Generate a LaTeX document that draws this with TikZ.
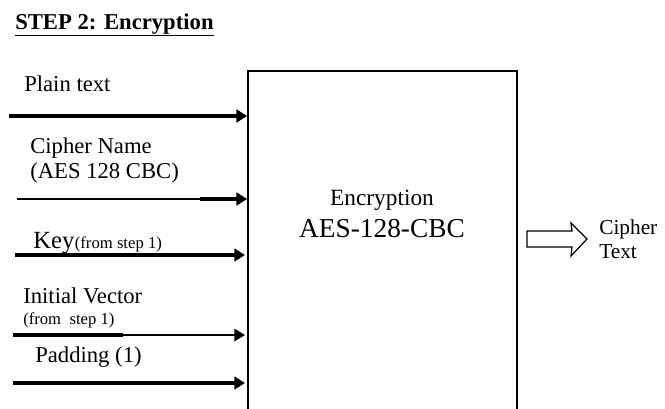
\documentclass[tikz,border=0pt]{standalone}
\usepackage{fontspec}
\setmainfont{Liberation Serif}
\usetikzlibrary{arrows.meta}
\begin{document}
\begin{tikzpicture}[x=0.75pt,y=-0.75pt,
  lbl/.style={anchor=base west,inner sep=0pt,font=\fontsize{17}{19}\selectfont},
  small/.style={anchor=base west,inner sep=0pt,font=\fontsize{12.5}{14}\selectfont},
  thick line/.style={line width=2.6pt},
  thin line/.style={line width=1pt},
  tip/.style={-{Triangle[length=8pt,width=9.5pt]}}]
\useasboundingbox (0,0) rectangle (665,408);
% title
\node[anchor=base west,inner sep=0pt,font=\bfseries\fontsize{17}{19}\selectfont] (title) at (15,29) {\underline{STEP 2: Encryption}};
% encryption box
\node[draw,line width=1.3pt,minimum width=269*0.75pt,minimum height=345*0.75pt,inner sep=0pt] (enc) at (382.5,243.5) {};
\node[align=center,inner sep=0pt] (enclbl) at (382,214) {{\fontsize{17.5}{20}\selectfont Encryption}\\[6pt]{\fontsize{20.5}{22}\selectfont AES-128-CBC}};
% inputs
\node[lbl] (plain) at (24,91) {Plain text};
\coordinate (s1) at (9,116);
\draw[thick line,tip] (s1) -- (enc.west |- s1);

\node[lbl] (cname) at (30,153) {Cipher Name};
\node[lbl] (caes) at (30,178) {(AES 128 CBC)};
\coordinate (s2) at (17,199);
\coordinate (m2) at (200,199);
\draw[thin line] (s2) -- (m2);
\draw[thick line,tip] (m2) -- (enc.west |- m2);

\node[anchor=base west,inner sep=0pt,font=\fontsize{18.5}{20}\selectfont] (key) at (33,248) {Key};
\node[small] (keyfrom) at (key.base east) {(from step 1)};
\coordinate (s3) at (15,255);
\coordinate (e3) at (245,255);
\draw[thick line,tip] (s3) -- (e3);

\node[lbl] (iv) at (23,303) {Initial Vector};
\node[small] (ivfrom) at (23,324) {(from\ \ step 1)};
\coordinate (s4) at (13,335);
\coordinate (m4) at (123,335);
\coordinate (e4) at (245,335);
\draw[thick line] (s4) -- (m4);
\draw[thin line,tip] (m4) -- (e4);

\node[lbl] (pad) at (35,362) {Padding (1)};
\coordinate (s5) at (13,383);
\coordinate (e5) at (245,383);
\draw[thick line,tip] (s5) -- (e5);

% output hollow arrow
\draw[line width=0.9pt] (527,231) -- (572,231) -- (571,223) -- (587,239) -- (571,256) -- (572,247) -- (527,247) -- cycle;
\node[anchor=base west,inner sep=0pt,font=\fontsize{16}{18}\selectfont] (ct) at (599,234) {Cipher};
\node[anchor=base west,inner sep=0pt,font=\fontsize{16}{18}\selectfont] (ct2) at (599,258) {Text};
\end{tikzpicture}
\end{document}
